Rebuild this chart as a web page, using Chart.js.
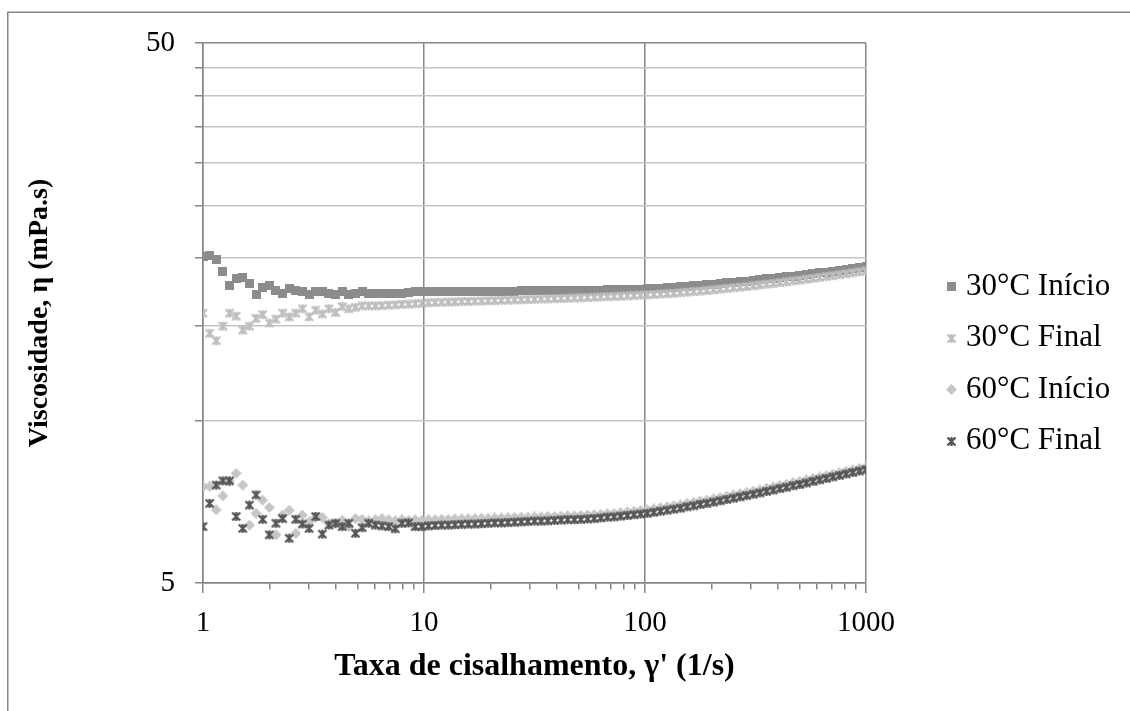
<!DOCTYPE html>
<html>
<head>
<meta charset="utf-8">
<script src="https://cdn.jsdelivr.net/npm/chart.js@4.4.1/dist/chart.umd.min.js"></script>
<style>
  html, body { margin: 0; padding: 0; background: #ffffff; }
  canvas { display: block; }
</style>
</head>
<body>
<canvas id="chart" width="1130" height="711"></canvas>
<script>
// Shear rate (1/s), log-spaced sweep shared by all four runs
const shearRate = [
  1, 1.072, 1.148, 1.23, 1.318, 1.413, 1.514, 1.622, 1.738, 1.862,
  1.995, 2.138, 2.291, 2.455, 2.63, 2.818, 3.02, 3.236, 3.467, 3.715,
  3.981, 4.266, 4.571, 4.898, 5.248, 5.623, 6.026, 6.457, 6.918, 7.413,
  7.943, 8.511, 9.12, 9.772, 10.47, 11.22, 12.02, 12.88, 13.8, 14.79,
  15.85, 16.98, 18.2, 19.5, 20.89, 22.39, 23.99, 25.7, 27.54, 29.51,
  31.62, 33.88, 36.31, 38.9, 41.69, 44.67, 47.86, 51.29, 54.95, 58.88,
  63.1, 67.61, 72.44, 77.62, 83.18, 89.13, 95.5, 102.3, 109.6, 117.5,
  125.9, 134.9, 144.5, 154.9, 166, 177.8, 190.5, 204.2, 218.8, 234.4,
  251.2, 269.2, 288.4, 309, 331.1, 354.8, 380.2, 407.4, 436.5, 467.7,
  501.2, 537, 575.4, 616.6, 660.7, 707.9, 758.6, 812.8, 871, 933.3, 1000
];

// Viscosity (mPa.s) for each run
const visc30Inicio = [
  20.1, 20.2, 19.9, 18.9, 17.8, 18.35, 18.4, 17.9, 17.1, 17.6,
  17.75, 17.4, 17.2, 17.55, 17.4, 17.35, 17.1, 17.35, 17.3, 17.2,
  17.1, 17.3, 17.1, 17.2, 17.3, 17.2, 17.2, 17.2, 17.15, 17.2,
  17.2, 17.25, 17.3, 17.3, 17.3, 17.3, 17.31, 17.31, 17.32, 17.32,
  17.33, 17.33, 17.34, 17.34, 17.35, 17.35, 17.36, 17.36, 17.37, 17.37,
  17.38, 17.38, 17.39, 17.4, 17.4, 17.41, 17.42, 17.42, 17.43, 17.44,
  17.44, 17.45, 17.46, 17.47, 17.48, 17.49, 17.5, 17.52, 17.55, 17.58,
  17.61, 17.64, 17.68, 17.72, 17.76, 17.8, 17.84, 17.88, 17.93, 17.97,
  18.02, 18.07, 18.12, 18.17, 18.22, 18.28, 18.33, 18.39, 18.45, 18.51,
  18.57, 18.63, 18.7, 18.76, 18.83, 18.9, 18.97, 19.04, 19.11, 19.18, 19.25
];
const visc30Final = [
  15.8, 14.5, 14.05, 14.95, 15.8, 15.6, 14.7, 14.95, 15.45, 15.7,
  15.15, 15.4, 15.8, 15.55, 15.8, 16.1, 15.55, 16.0, 15.75, 16.1,
  15.85, 16.25, 16.1, 16.2, 16.3, 16.3, 16.3, 16.32, 16.35, 16.37,
  16.4, 16.42, 16.45, 16.48, 16.52, 16.54, 16.55, 16.57, 16.58, 16.6,
  16.61, 16.63, 16.64, 16.66, 16.67, 16.69, 16.7, 16.72, 16.73, 16.75,
  16.76, 16.78, 16.79, 16.81, 16.82, 16.84, 16.86, 16.87, 16.89, 16.91,
  16.93, 16.95, 16.97, 16.99, 17.01, 17.03, 17.06, 17.08, 17.11, 17.14,
  17.17, 17.2, 17.24, 17.28, 17.32, 17.36, 17.4, 17.45, 17.5, 17.55,
  17.6, 17.65, 17.7, 17.76, 17.82, 17.88, 17.94, 18.0, 18.06, 18.13,
  18.19, 18.26, 18.33, 18.4, 18.47, 18.54, 18.62, 18.69, 18.77, 18.85, 18.93
];
const visc60Inicio = [
  7.54, 7.55, 6.83, 7.25, 7.7, 7.98, 7.59, 6.4, 6.73, 7.12,
  6.9, 6.14, 6.68, 6.82, 6.18, 6.68, 6.49, 6.61, 6.61, 6.45,
  6.45, 6.53, 6.36, 6.58, 6.56, 6.52, 6.55, 6.58, 6.55, 6.52,
  6.55, 6.53, 6.55, 6.53, 6.55, 6.55, 6.56, 6.56, 6.57, 6.57,
  6.58, 6.58, 6.59, 6.59, 6.6, 6.6, 6.61, 6.61, 6.62, 6.62,
  6.63, 6.63, 6.64, 6.64, 6.65, 6.66, 6.66, 6.67, 6.68, 6.69,
  6.7, 6.72, 6.73, 6.75, 6.77, 6.79, 6.81, 6.83, 6.86, 6.89,
  6.92, 6.95, 6.98, 7.02, 7.05, 7.09, 7.12, 7.16, 7.2, 7.24,
  7.28, 7.32, 7.36, 7.4, 7.44, 7.49, 7.53, 7.58, 7.62, 7.67,
  7.71, 7.76, 7.81, 7.86, 7.9, 7.95, 8.0, 8.05, 8.1, 8.15, 8.2
];
const visc60Final = [
  6.36, 7.02, 7.59, 7.73, 7.73, 6.64, 6.31, 6.97, 7.28, 6.56,
  6.14, 6.45, 6.58, 6.05, 6.56, 6.43, 6.31, 6.64, 6.16, 6.4,
  6.45, 6.36, 6.45, 6.18, 6.33, 6.45, 6.4, 6.38, 6.36, 6.3,
  6.45, 6.46, 6.36, 6.36, 6.38, 6.39, 6.4, 6.4, 6.41, 6.42,
  6.43, 6.43, 6.44, 6.45, 6.46, 6.46, 6.47, 6.48, 6.49, 6.5,
  6.51, 6.51, 6.52, 6.53, 6.54, 6.55, 6.55, 6.56, 6.57, 6.58,
  6.6, 6.62, 6.63, 6.65, 6.67, 6.69, 6.71, 6.73, 6.76, 6.79,
  6.82, 6.85, 6.88, 6.92, 6.95, 6.99, 7.02, 7.06, 7.1, 7.14,
  7.18, 7.22, 7.26, 7.3, 7.34, 7.39, 7.43, 7.48, 7.52, 7.57,
  7.61, 7.66, 7.71, 7.76, 7.81, 7.86, 7.91, 7.96, 8.01, 8.06, 8.11
];

const seriesLabels = ['30°C Início', '30°C Final', '60°C Início', '60°C Final'];

// Axis ticks
const xMajorTicks = [1, 10, 100, 1000];
const xMinorSteps = [2, 3, 4, 5, 6, 7, 8, 9];
const yTicks = [5, 10, 15, 20, 25, 30, 35, 40, 45, 50];
const yLabelledTicks = [5, 50];

const xTickValues = [];
xMajorTicks.forEach((m, i) => {
  xTickValues.push(m);
  if (i < xMajorTicks.length - 1) xMinorSteps.forEach(s => xTickValues.push(m * s));
});

// Marker images
function makeMarker(kind, color) {
  const c = document.createElement('canvas');
  const g = c.getContext('2d');
  if (kind === 'square') {
    c.width = 9; c.height = 9;
    g.fillStyle = color;
    g.fillRect(0, 0, 9, 9);
  } else if (kind === 'diamond') {
    c.width = 11; c.height = 11;
    g.fillStyle = color;
    g.beginPath();
    g.moveTo(5.5, 0); g.lineTo(11, 5.5); g.lineTo(5.5, 11); g.lineTo(0, 5.5);
    g.closePath();
    g.fill();
  } else {
    c.width = 11; c.height = 11;
    g.strokeStyle = color;
    g.lineWidth = 2.3;
    g.beginPath();
    g.moveTo(1.5, 1.5); g.lineTo(9.5, 9.5);
    g.moveTo(9.5, 1.5); g.lineTo(1.5, 9.5);
    g.moveTo(5.5, 1); g.lineTo(5.5, 10);
    g.stroke();
  }
  return c;
}

const markers = [
  makeMarker('square', '#8c8c8c'),
  makeMarker('star', '#bdbdbd'),
  makeMarker('diamond', '#c6c6c6'),
  makeMarker('star', '#555555')
];

const seriesValues = [visc30Inicio, visc30Final, visc60Inicio, visc60Final];

const datasets = seriesValues.map((vals, i) => ({
  label: seriesLabels[i],
  data: shearRate.map((x, k) => ({ x: x, y: vals[k] })),
  pointStyle: markers[i],
  pointRadius: 5,
  showLine: false,
  order: seriesValues.length - 1 - i
}));

const AXIS_GREY = '#868686';
const MINOR_GRID = '#c4c4c4';
const SERIF = 'Liberation Serif, Times New Roman, serif';

// White background and outer chart frame
const framePlugin = {
  id: 'frame',
  beforeDraw(chart) {
    const g = chart.ctx;
    g.save();
    g.fillStyle = '#ffffff';
    g.fillRect(0, 0, chart.width, chart.height);
    g.strokeStyle = AXIS_GREY;
    g.lineWidth = 1.5;
    g.beginPath();
    g.moveTo(7.75, chart.height);
    g.lineTo(7.75, 12.25);
    g.lineTo(chart.width, 12.25);
    g.stroke();
    g.restore();
  }
};

// Legend at the right of the plot
const legendPlugin = {
  id: 'sideLegend',
  afterDraw(chart) {
    const g = chart.ctx;
    const markerX = 951, textX = 966, firstRow = 286.5, rowStep = 51.5;
    g.save();
    g.font = '31px ' + SERIF;
    g.fillStyle = '#000000';
    g.textBaseline = 'middle';
    g.textAlign = 'left';
    chart.data.datasets.forEach((ds, i) => {
      const y = firstRow + i * rowStep;
      const img = ds.pointStyle;
      g.drawImage(img, Math.round(markerX - img.width / 2), Math.round(y - img.height / 2));
      g.fillText(ds.label, textX, y);
    });
    g.restore();
  }
};

new Chart(document.getElementById('chart'), {
  type: 'scatter',
  data: { datasets: datasets },
  options: {
    responsive: false,
    animation: false,
    devicePixelRatio: 1,
    layout: { padding: { left: 12, top: 43, right: 264, bottom: 20 } },
    plugins: {
      legend: { display: false },
      tooltip: { enabled: false }
    },
    scales: {
      x: {
        type: 'logarithmic',
        min: 1,
        max: 1000,
        afterBuildTicks: s => { s.ticks = xTickValues.map(v => ({ value: v })); },
        afterFit: s => { s.height = 108; },
        ticks: {
          autoSkip: false,
          maxRotation: 0,
          minRotation: 0,
          padding: 13,
          color: '#000000',
          font: { family: SERIF, size: 29 },
          callback: v => xMajorTicks.includes(v) ? String(v) : ''
        },
        grid: {
          color: ctx => (ctx.tick && xMajorTicks.includes(ctx.tick.value)) ? AXIS_GREY : 'rgba(0,0,0,0)',
          lineWidth: 1.5,
          tickLength: 10,
          tickColor: AXIS_GREY,
          tickWidth: 1.5,
          tickBorderDash: ctx => (ctx.tick && xMajorTicks.includes(ctx.tick.value)) ? [] : [6, 30]
        },
        border: { color: AXIS_GREY, width: 1.5 },
        title: {
          display: true,
          text: "Taxa de cisalhamento, γ' (1/s)",
          color: '#000000',
          font: { family: SERIF, size: 32, weight: 'bold' },
          padding: { top: 0, bottom: 5 }
        }
      },
      y: {
        type: 'logarithmic',
        min: 5,
        max: 50,
        afterBuildTicks: s => { s.ticks = yTicks.map(v => ({ value: v })); },
        afterFit: s => { s.width = 191; },
        ticks: {
          autoSkip: false,
          padding: 20,
          color: '#000000',
          font: { family: SERIF, size: 29 },
          callback: v => yLabelledTicks.includes(v) ? String(v) : ''
        },
        grid: {
          color: ctx => (ctx.tick && yLabelledTicks.includes(ctx.tick.value)) ? AXIS_GREY : MINOR_GRID,
          lineWidth: 1.5,
          tickLength: 8,
          tickColor: AXIS_GREY,
          tickWidth: 1.5
        },
        border: { color: AXIS_GREY, width: 1.5 },
        title: {
          display: true,
          text: 'Viscosidade, η (mPa.s)',
          color: '#000000',
          font: { family: SERIF, size: 28, weight: 'bold' },
          padding: { top: 11, bottom: 0 }
        }
      }
    }
  },
  plugins: [framePlugin, legendPlugin]
});
</script>
</body>
</html>
